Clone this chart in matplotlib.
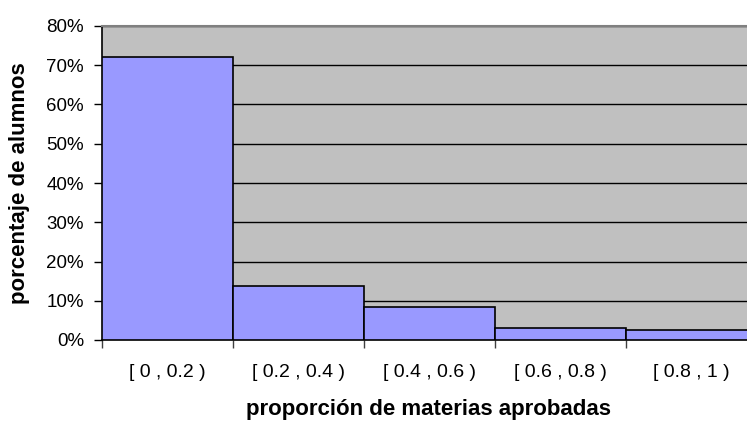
import numpy as np
import matplotlib.pyplot as plt
from matplotlib.ticker import PercentFormatter

plt.rcParams['font.family'] = ['Liberation Sans', 'DejaVu Sans']

categories = ['[ 0 , 0.2 )', '[ 0.2 , 0.4 )', '[ 0.4 , 0.6 )', '[ 0.6 , 0.8 )', '[ 0.8 , 1 )']
porcentajes = [72.1, 13.8, 8.3, 3.1, 2.6]
y_ticks = [0, 10, 20, 30, 40, 50, 60, 70, 80]

W, H = 747, 424
fig = plt.figure(figsize=(W / 100, H / 100), dpi=100)
# plot area runs slightly past the right edge, as in the reference
ax = fig.add_axes([102 / W, 1 - 340 / H, 655 / W, 314 / H])
ax.set_facecolor('#C0C0C0')

x = np.arange(len(categories))
ax.bar(x, porcentajes, width=1.0, color='#9999FF', edgecolor='black', linewidth=1.2, zorder=3)

ax.set_xlim(-0.5, len(categories) - 0.5)
ax.set_ylim(0, 80)
ax.set_yticks(y_ticks)
ax.yaxis.set_major_formatter(PercentFormatter(decimals=0))
ax.grid(axis='y', color='black', linewidth=1.0, zorder=1)
ax.set_axisbelow(True)

ax.set_xticks(x)
ax.set_xticklabels(categories)
ax.set_xticks(np.arange(len(categories) + 1) - 0.5, minor=True)
ax.tick_params(axis='x', which='major', length=0, pad=17, labelsize=14)
ax.tick_params(axis='x', which='minor', length=6, width=1.0, color='#404040')
ax.tick_params(axis='y', length=6, width=1.0, labelsize=13.5, pad=7)

for side in ['left', 'bottom']:
    ax.spines[side].set_color('black')
    ax.spines[side].set_linewidth(1.2)
ax.spines['top'].set_color('#808080')
ax.spines['top'].set_linewidth(1.5)
ax.spines['right'].set_visible(False)

fig.text(428 / W, 1 - 409 / H, 'proporción de materias aprobadas', fontsize=16,
         fontweight='bold', ha='center', va='center')
fig.text(20 / W, 1 - 183 / H, 'porcentaje de alumnos', fontsize=16,
         fontweight='bold', ha='center', va='center', rotation=90)

fig.savefig('out.png', dpi=100)
